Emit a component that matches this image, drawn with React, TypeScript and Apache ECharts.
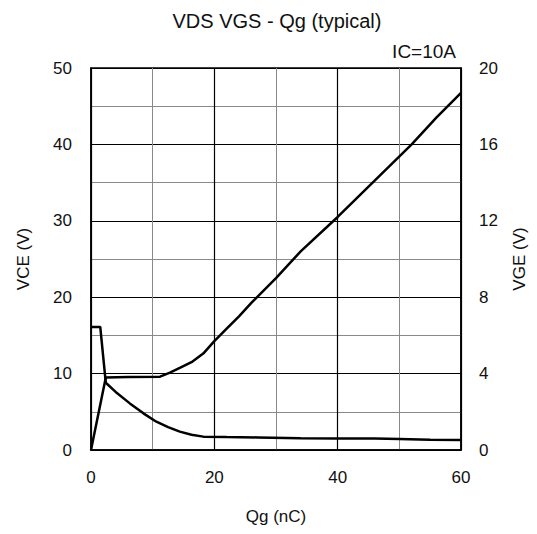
import React, { useEffect, useRef } from "react";
import * as echarts from "echarts";

const titleText = "VDS VGS - Qg (typical)";
const conditionText = "IC=10A";
const xName = "Qg (nC)";
const leftName = "VCE (V)";
const rightName = "VGE (V)";

// Qg (nC) vs VCE (V)
const vceQg = [0, 1.5, 2.4, 4, 6.3, 8.5, 10.6, 12.5, 14.4, 16.3, 18.2, 22, 27, 34, 40, 46, 50, 55, 60];
const vceVal = [16.1, 16.1, 8.8, 7.6, 6.1, 4.8, 3.7, 3.0, 2.4, 2.0, 1.75, 1.7, 1.65, 1.55, 1.5, 1.5, 1.45, 1.35, 1.3];

// Qg (nC) vs VGE (V)
const vgeQg = [0, 2.4, 6, 11.2, 12.8, 14.4, 16.3, 18.2, 20, 22, 24, 26, 30, 34, 40, 46, 52, 56, 60];
const vgeVal = [0, 3.8, 3.82, 3.84, 4.05, 4.3, 4.6, 5.05, 5.7, 6.35, 7.0, 7.7, 9.0, 10.4, 12.2, 14.1, 16.0, 17.4, 18.7];

const FONT = "'Liberation Sans', Arial, sans-serif";

export default function App() {
  const ref = useRef<HTMLDivElement>(null);

  useEffect(() => {
    if (!ref.current) return;
    const chart = echarts.init(ref.current, null, { renderer: "svg" });
    const labelStyle = { color: "#111", fontSize: 17, fontFamily: FONT };
    chart.setOption({
      animation: false,
      backgroundColor: "#fff",
      title: {
        text: titleText,
        left: 272,
        textAlign: "center",
        top: 6,
        textStyle: { color: "#111", fontSize: 20, fontWeight: "normal", fontFamily: FONT },
      },
      graphic: [
        {
          type: "text",
          right: 537 - 456,
          top: 42,
          style: { text: conditionText, fill: "#111", fontSize: 19, fontFamily: FONT },
        },
      ],
      grid: {
        left: 91,
        right: 76,
        top: 68,
        bottom: 84,
        show: true,
        borderColor: "#000",
        borderWidth: 1.5,
        backgroundColor: "transparent",
      },
      xAxis: {
        type: "value",
        min: 0,
        max: 60,
        interval: 20,
        name: xName,
        nameLocation: "middle",
        nameGap: 58,
        nameTextStyle: labelStyle,
        axisLine: { show: true, lineStyle: { color: "#000", width: 1.5 } },
        axisTick: { show: false },
        axisLabel: { ...labelStyle, margin: 19 },
        splitLine: { show: true, lineStyle: { color: "#000", width: 1.2 } },
        minorTick: { show: false, splitNumber: 2 },
        minorSplitLine: { show: true, lineStyle: { color: "#8a8a8a", width: 1 } },
      },
      yAxis: [
        {
          type: "value",
          min: 0,
          max: 50,
          interval: 10,
          name: leftName,
          nameLocation: "middle",
          nameGap: 59,
          nameRotate: 90,
          nameTextStyle: labelStyle,
          axisLine: { show: true, lineStyle: { color: "#000", width: 1.5 } },
          axisTick: { show: false },
          axisLabel: { ...labelStyle, margin: 19 },
          splitLine: { show: true, lineStyle: { color: "#000", width: 1.2 } },
          minorTick: { show: false, splitNumber: 2 },
          minorSplitLine: { show: true, lineStyle: { color: "#8a8a8a", width: 1 } },
        },
        {
          type: "value",
          min: 0,
          max: 20,
          interval: 4,
          position: "right",
          name: rightName,
          nameLocation: "middle",
          nameGap: 50,
          nameRotate: 90,
          nameTextStyle: labelStyle,
          axisLine: { show: true, lineStyle: { color: "#000", width: 1.5 } },
          axisTick: { show: false },
          axisLabel: { ...labelStyle, margin: 18 },
          splitLine: { show: false },
        },
      ],
      series: [
        {
          type: "line",
          name: leftName,
          yAxisIndex: 0,
          data: vceQg.map((q, i) => [q, vceVal[i]]),
          showSymbol: false,
          smooth: false,
          lineStyle: { color: "#000", width: 2.5 },
        },
        {
          type: "line",
          name: rightName,
          yAxisIndex: 1,
          data: vgeQg.map((q, i) => [q, vgeVal[i]]),
          showSymbol: false,
          smooth: false,
          lineStyle: { color: "#000", width: 2.5 },
        },
      ],
    });
    return () => chart.dispose();
  }, []);

  return (
    <div
      ref={ref}
      style={{ position: "fixed", left: 0, top: 0, width: 537, height: 534, background: "#fff" }}
    />
  );
}
